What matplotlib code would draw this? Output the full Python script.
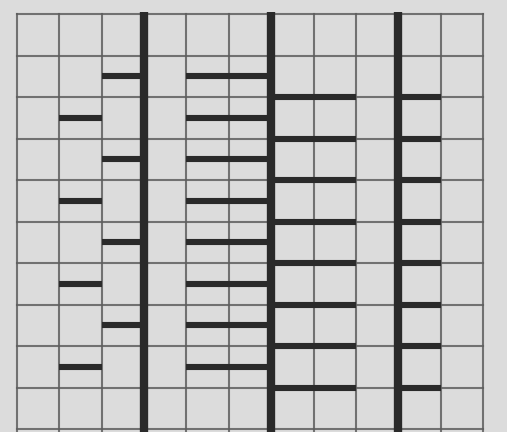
import numpy as np
import matplotlib
matplotlib.use("Agg")
import matplotlib.pyplot as plt

# grid: 11 columns x 10 rows, thick bars on some column lines
n_cols = 11
n_rows = 10
thick_cols = [3, 6, 9]

# short dashes (x from, x to, row centres)
dash_a_span = (1, 2)
dash_a_rows = [2.5, 4.5, 6.5, 8.5]
dash_b_span = (2, 3)
dash_b_rows = [1.5, 3.5, 5.5, 7.5]
dash_c_span = (4, 6)
dash_c_rows = [1.5, 2.5, 3.5, 4.5, 5.5, 6.5, 7.5, 8.5]
dash_d_span = (6, 8)
dash_d_rows = [2, 3, 4, 5, 6, 7, 8, 9]
dash_e_span = (9, 10)
dash_e_rows = [2, 3, 4, 5, 6, 7, 8, 9]

bg = "#dcdcdc"
grid_col = "#5e5e5e"
dark = "#2a2a2a"

fig = plt.figure(figsize=(5.07, 4.32), dpi=100, facecolor=bg)
ax = fig.add_axes([0, 0, 1, 1])
ax.set_facecolor(bg)

# pixel mapping: x = 17 + 42.36*col, y = 14 + 41.5*row
cw, rh = 42.36, 41.5
ax.set_xlim(-17 / cw, (507 - 17) / cw)
ax.set_ylim((432 - 14) / rh, -14 / rh)
ax.axis("off")

# thin grid
for c in range(n_cols + 1):
    ax.plot([c, c], [0, n_rows + 0.05], color=grid_col, lw=1.5, alpha=0.85)
for r in range(n_rows + 1):
    ax.plot([0, n_cols], [r, r], color=grid_col, lw=1.5, alpha=0.85)

# dashes
for span, rows in [(dash_a_span, dash_a_rows), (dash_b_span, dash_b_rows),
                   (dash_c_span, dash_c_rows), (dash_d_span, dash_d_rows),
                   (dash_e_span, dash_e_rows)]:
    ax.hlines(rows, span[0], span[1], colors=dark, lw=4.4, zorder=3)

# thick bars
for c in thick_cols:
    ax.plot([c, c], [-0.05, n_rows + 0.2], color=dark, lw=6.0, zorder=4,
            solid_capstyle="butt")

fig.savefig("out.png", dpi=100, facecolor=bg)
